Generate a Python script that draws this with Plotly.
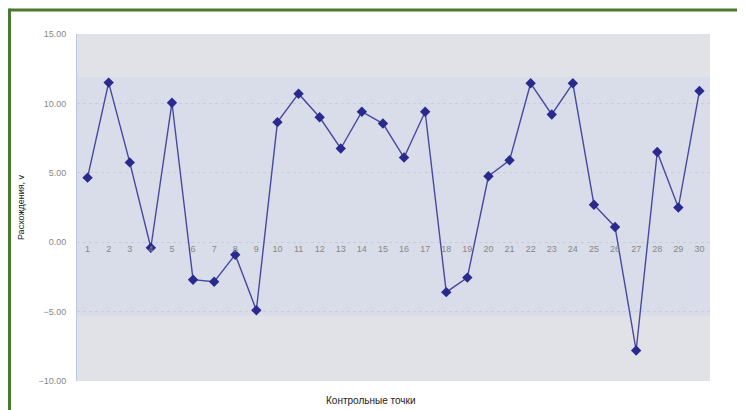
import plotly.graph_objects as go

points = [str(i) for i in range(1, 31)]
deviation = [4.65, 11.5, 5.75, -0.4, 10.05, -2.7, -2.85, -0.9, -4.9, 8.65,
             10.7, 9.0, 6.75, 9.4, 8.55, 6.1, 9.4, -3.6, -2.55, 4.75,
             5.9, 11.45, 9.2, 11.45, 2.7, 1.1, -7.8, 6.5, 2.5, 10.9]
y_ticks = [-10, -5, 0, 5, 10, 15]

# page is drawn with an 8px body margin
OFF = 8
W, H = 737, 402
L, R, T, B = 69, 35, 26, 29
pw, ph = W - L - R, H - T - B


def px_x(px):
    return (px - OFF - L) / pw


def px_y(py):
    return (H - B - (py - OFF)) / ph


fig = go.Figure()

fig.add_trace(go.Scatter(
    x=points,
    y=deviation,
    mode='lines+markers',
    line=dict(color='#4848a2', width=1.4),
    marker=dict(symbol='diamond', size=8, color='#2a2a8e'),
    showlegend=False,
))

# slightly bluer middle band of the plot area
fig.add_shape(type='rect', xref='paper', yref='y', x0=0, x1=1, y0=-5.3, y1=11.9,
              fillcolor='#d8dde9', line_width=0, layer='below')

# green frame (kept inside the figure, which starts at the body margin)
green = '#4b7a2e'
fig.add_shape(type='line', xref='paper', yref='paper',
              x0=px_x(9.5), x1=px_x(760), y0=px_y(10), y1=px_y(10),
              line=dict(color=green, width=3))
fig.add_shape(type='line', xref='paper', yref='paper',
              x0=px_x(9.5), x1=px_x(9.5), y0=px_y(8.5), y1=px_y(420),
              line=dict(color=green, width=3))

fig.add_annotation(text='Контрольные точки', xref='paper', yref='paper',
                   x=px_x(370), y=px_y(401), yanchor='middle', showarrow=False,
                   font=dict(family='Arial', size=10, color='#222222'))

fig.update_layout(
    width=W, height=H,
    margin=dict(l=L, r=R, t=T, b=B),
    paper_bgcolor='white',
    plot_bgcolor='#e1e2e7',
    font=dict(family='Arial', color='#777777'),
    xaxis=dict(
        type='category',
        range=[-0.5, 29.5],
        anchor='free',
        position=0.4,
        showgrid=False,
        zeroline=False,
        showline=False,
        ticks='',
        tickfont=dict(size=9, color='#888888'),
    ),
    yaxis=dict(
        range=[-10, 15],
        tickvals=y_ticks,
        tickformat='.2f',
        showgrid=True,
        gridcolor='#c8ccd8',
        griddash='dot',
        zeroline=False,
        showline=True,
        linecolor='#b8c8e0',
        ticks='',
        ticklabelstandoff=8,
        tickfont=dict(size=9, color='#888888'),
        title=dict(text='Расхождения, v', standoff=12,
                   font=dict(family='Arial', size=9, color='#222222')),
    ),
)

fig.write_html('out.html')
